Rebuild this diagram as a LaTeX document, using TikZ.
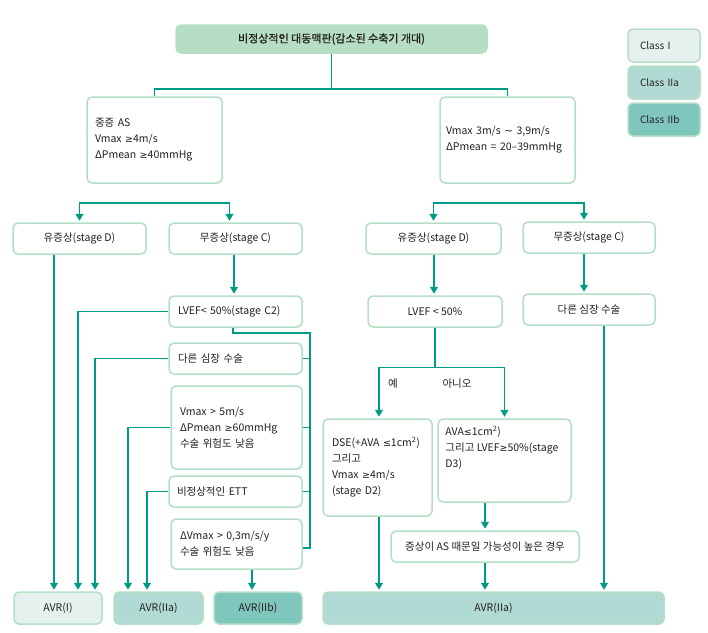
\documentclass[tikz,border=0pt]{standalone}
\usepackage{fontspec}
\setmainfont{Noto Sans CJK KR}
\newfontfamily\symfont{DejaVu Sans}
\newfontfamily\titlefont{Noto Sans CJK KR}[FakeBold=1]
\newcommand\mygeq{{\symfont\fontsize{9.5}{16}\selectfont ≥}}
\newcommand\myleq{{\symfont\fontsize{9.5}{16}\selectfont ≤}}
\newcommand\mysim{{\symfont ∼}}
\usetikzlibrary{arrows.meta,calc}
\definecolor{lineteal}{HTML}{009B84}
\definecolor{boxline}{HTML}{B5DFC5}
\definecolor{topfill}{HTML}{B5DEC4}
\definecolor{cone}{HTML}{E4F1EF}
\definecolor{ctwoa}{HTML}{B2DAD4}
\definecolor{ctwob}{HTML}{7FC6BD}
\definecolor{txt}{HTML}{231F20}
\tikzset{
  every node/.style={font=\fontsize{10.5}{16}\selectfont, text=txt},
  box/.style={draw=boxline, line width=1.5pt, rounded corners=5pt, fill=white, inner sep=0pt},
  cbox/.style={box, align=center},
  lbox/.style={box, align=left, inner xsep=8pt, text width=#1},
  conn/.style={draw=lineteal, line width=1.2pt},
  arr/.style={conn, -{Triangle[width=8pt,length=7pt]}, shorten >=1.5pt},
  plain/.style={inner sep=0pt}
}
\begin{document}
\begin{tikzpicture}[x=1pt,y=-1pt]
\useasboundingbox (0,0) rectangle (708,632);
% top
\node[cbox, fill=topfill, minimum width=311pt, minimum height=28pt, font=\titlefont\fontsize{11}{14}\selectfont] (title) at (331.5,39) {비정상적인 대동맥판(감소된 수축기 개대)};
\node[lbox=119pt, minimum width=133pt, minimum height=86pt] (sev) at (154.5,140) {중증 AS\\Vmax \mygeq 4m/s\\ΔPmean \mygeq 40mmHg};
\node[lbox=123pt, inner xsep=6pt, minimum width=135pt, minimum height=86pt] (mod) at (507.5,140) {Vmax 3m/s \mysim{} 3,9m/s\\ΔPmean = 20–39mmHg};
% legend
\node[lbox=48pt, inner xsep=12pt, minimum width=72pt, minimum height=33pt, fill=cone, font=\fontsize{10}{14}\selectfont] (cls1) at (664,45.5) {Class I};
\node[lbox=48pt, inner xsep=12pt, minimum width=72pt, minimum height=33pt, fill=ctwoa, font=\fontsize{10}{14}\selectfont] (cls2a) at (664,82.5) {Class IIa};
\node[lbox=48pt, inner xsep=12pt, minimum width=72pt, minimum height=33pt, fill=ctwob, font=\fontsize{10}{14}\selectfont] (cls2b) at (664,119.5) {Class IIb};
% left column
\node[cbox, minimum width=133pt, minimum height=31pt] (sympL) at (79.5,238.5) {유증상(stage D)};
\node[cbox, minimum width=133pt, minimum height=31pt] (asympL) at (235.5,238.5) {무증상(stage C)};
\node[lbox=115pt, inner xsep=9pt, minimum width=133pt, minimum height=31pt] (lvefL) at (235.5,311.5) {LVEF< 50\%(stage C2)};
\node[lbox=115pt, inner xsep=9pt, minimum width=133pt, minimum height=31pt] (surgL) at (235.5,358.5) {다른 심장 수술};
\node[lbox=113pt, inner xsep=9pt, minimum width=131pt, minimum height=83pt] (vmax5) at (236.5,427.5) {Vmax > 5m/s\\ΔPmean \mygeq 60mmHg\\수술 위험도 낮음};
\node[lbox=117pt, inner xsep=8pt, minimum width=133pt, minimum height=31pt] (ett) at (235.5,491.5) {비정상적인 ETT};
\node[lbox=113pt, inner xsep=9pt, minimum width=131pt, minimum height=50pt] (dvmax) at (236.5,544) {ΔVmax > 0,3m/s/y\\수술 위험도 낮음};
\node[cbox, fill=cone, minimum width=88pt, minimum height=32pt] (avr1) at (58,608) {AVR(I)};
\node[cbox, fill=ctwoa, minimum width=89pt, minimum height=32pt] (avr2a) at (158.5,608) {AVR(IIa)};
\node[cbox, fill=ctwob, minimum width=88pt, minimum height=32pt] (avr2b) at (258,608) {AVR(IIb)};
% right column
\node[cbox, minimum width=135pt, minimum height=31pt] (sympR) at (433.5,238.5) {유증상(stage D)};
\node[cbox, minimum width=132pt, minimum height=31pt] (asympR) at (589,237.5) {무증상(stage C)};
\node[cbox, minimum width=134pt, minimum height=31pt] (lvefR) at (435,311.5) {LVEF < 50\%};
\node[cbox, minimum width=132pt, minimum height=31pt] (surgR) at (589,309.5) {다른 심장 수술};
\node[plain] (yes) at (393,384) {예};
\node[plain] (no) at (457,384) {아니오};
\node[lbox=97pt, inner xsep=6pt, minimum width=109pt, minimum height=97pt] (dse) at (377.5,467.5) {\hspace*{3pt}DSE(+AVA \myleq 1cm\textsuperscript{2})\\\hspace*{3pt}그리고\\\hspace*{3pt}Vmax \mygeq 4m/s\\\hspace*{3pt}(stage D2)};
\node[box, minimum width=133pt, minimum height=83pt] (ava) at (504.5,460.5) {};
\node[plain, anchor=north west, align=left] (avat) at ([xshift=8pt,yshift=-8pt]ava.north west) {AVA\myleq 1cm\textsuperscript{2})\\그리고 LVEF\mygeq 50\%(stage\\D3)};
\node[cbox, minimum width=188pt, minimum height=31pt] (symAS) at (485,546.5) {증상이 AS 때문일 가능성이 높은 경우};
\node[cbox, fill=ctwoa, minimum width=341pt, minimum height=32pt] (avrR) at (493.5,608) {AVR(IIa)};
% coordinates
\coordinate (j1) at (331.5,89);
\coordinate (b1) at (154,203);
\coordinate (b2) at (509,203);
\coordinate (bus) at (310,333);
\coordinate (b3) at ($(lvefR.south)+(0,40)$);
% connectors top
\draw[conn] (sev.north) |- (j1) -| (mod.north);
\draw[conn] (title.south) -- (j1);
\draw[arr] (b1) -| (sympL.north);
\draw[arr] (b1) -| ([xshift=-6pt]asympL.north);
\draw[arr] (b2) -| (sympR.north);
\draw[arr] (b2) -| ([xshift=-5pt]asympR.north);
% left column connectors
\draw[arr] ([xshift=-4pt]avr1.north |- sympL.south) -- ([xshift=-4pt]avr1.north);
\draw[arr] ([xshift=-1.5pt]asympL.south) -- ([xshift=-1.5pt]lvefL.north);
\draw[arr] (lvefL.west) -| ([xshift=20pt]avr1.north);
\draw[arr] (surgL.west) -| ([xshift=37pt]avr1.north);
\draw[arr] (vmax5.west) -| ([xshift=-30.5pt]avr2a.north);
\draw[arr] (ett.west) -| ([xshift=-11.5pt]avr2a.north);
\draw[arr] ([xshift=15.5pt]dvmax.south) -- ([xshift=15.5pt]dvmax.south |- avr2b.north);
\draw[conn] ([xshift=-2.5pt]lvefL.south) |- (bus) -- ([yshift=-4pt]bus |- dvmax.east) -- ([yshift=-4pt]dvmax.east);
\draw[conn] (surgL.east) -- (bus |- surgL.east);
\draw[conn] (vmax5.east) -- (bus |- vmax5.east);
\draw[conn] (ett.east) -- (bus |- ett.east);
% right column connectors
\draw[arr] ([xshift=0.5pt]sympR.south) -- ([xshift=0.5pt]sympR.south |- lvefR.north);
\draw[arr] ([xshift=-5pt]asympR.south) -- ([xshift=-5pt]surgR.north);
\draw[arr] ([xshift=15pt]surgR.south) -- ([xshift=15pt]surgR.south |- avrR.north);
\draw[conn] (lvefR.south) -- (b3);
\draw[arr] (b3) -| ([xshift=1.5pt]dse.north);
\draw[arr] (b3) -| (ava.north);
\draw[arr] ([xshift=1.5pt]dse.south) -- ([xshift=1.5pt]dse.south |- avrR.north);
\draw[arr] (symAS.north |- ava.south) -- (symAS.north);
\draw[arr] (symAS.south) -- (symAS.south |- avrR.north);
\end{tikzpicture}
\end{document}
